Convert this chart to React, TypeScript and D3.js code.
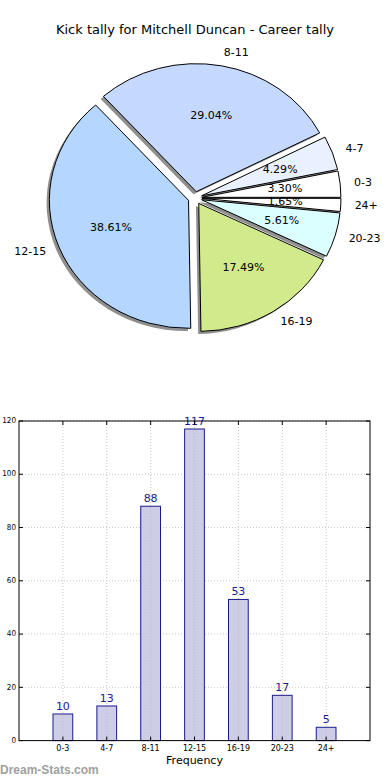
import React from 'react';
import * as d3 from 'd3';

const categories = ['0-3', '4-7', '8-11', '12-15', '16-19', '20-23', '24+'];
const kicks = [10, 13, 88, 117, 53, 17, 5];
const sliceColors = ['#ffffff', '#e9f0ff', '#c5d9ff', '#b4d6ff', '#d1eb8c', '#dbffff', '#ffffff'];
const yTicks = [0, 20, 40, 60, 80, 100, 120];

const W = 390;
const H = 780;
const FONT = 'DejaVu Sans, sans-serif';

// pie geometry (matplotlib style, non-equal aspect => ellipse)
const cx = 195;
const cy = 198;
const rx = 139;
const ry = 128;
const explode = 0.05;

// bar axes box
const ax = { left: 19, right: 370, top: 421, bottom: 740.6 };

const App: React.FC = () => {
  const total = d3.sum(kicks);
  const pie = d3.pie<number>()
    .sort(null)
    .startAngle(Math.PI / 2)
    .endAngle(Math.PI / 2 - 2 * Math.PI);
  const arcs = pie(kicks);
  const arc = d3.arc<d3.PieArcDatum<number>>().innerRadius(0).outerRadius(1);

  const x = d3.scaleLinear().domain([-1, 7]).range([ax.left, ax.right]);
  const y = d3.scaleLinear().domain([0, 120]).range([ax.bottom, ax.top]);
  const barW = x(0.45) - x(0);

  const slices = arcs.map((a, i) => {
    const mid = (a.startAngle + a.endAngle) / 2;
    const ux = Math.sin(mid);
    const uy = -Math.cos(mid);
    const ox = cx + explode * rx * ux;
    const oy = cy + explode * ry * uy;
    return { a, i, ux, uy, ox, oy };
  });

  return (
    <svg width={W} height={H} style={{ position: 'absolute', left: 0, top: 0, background: '#fff' }}
      fontFamily={FONT}>
      <text x={195} y={30} textAnchor="middle" dominantBaseline="middle" fontSize={13} fill="#000">
        Kick tally for Mitchell Duncan - Career tally
      </text>

      {/* shadows */}
      {slices.map(s => (
        <path key={'sh' + s.i} d={arc(s.a) || ''}
          transform={`translate(${s.ox - 0.02 * rx},${s.oy + 0.02 * ry}) scale(${rx},${ry})`}
          fill="#8f8f8f" stroke="none" />
      ))}
      {/* wedges */}
      {slices.map(s => (
        <path key={'w' + s.i} d={arc(s.a) || ''}
          transform={`translate(${s.ox},${s.oy}) scale(${rx},${ry})`}
          fill={sliceColors[s.i]} stroke="#000" strokeWidth={1}
          vectorEffect="non-scaling-stroke" strokeLinejoin="round" />
      ))}
      {/* labels */}
      {slices.map(s => {
        const lx = s.ox + 1.1 * rx * s.ux;
        const ly = s.oy + 1.1 * ry * s.uy;
        return (
          <text key={'l' + s.i} x={lx} y={ly} dominantBaseline="middle" fontSize={11}
            textAnchor={s.ux > 0 ? 'start' : 'end'} fill="#000">
            {categories[s.i]}
          </text>
        );
      })}
      {slices.map(s => (
        <text key={'p' + s.i} x={s.ox + 0.6 * rx * s.ux} y={s.oy + 0.6 * ry * s.uy}
          dominantBaseline="middle" textAnchor="middle" fontSize={11} fill="#000">
          {(100 * kicks[s.i] / total).toFixed(2)}%
        </text>
      ))}

      {/* bar chart grid */}
      <g stroke="#c8c8c8" strokeWidth={1} strokeDasharray="1,2">
        {categories.map((c, i) => (
          <line key={'gx' + c} x1={x(i)} x2={x(i)} y1={ax.top} y2={ax.bottom} />
        ))}
        {yTicks.map(t => (
          <line key={'gy' + t} x1={ax.left} x2={ax.right} y1={y(t)} y2={y(t)} />
        ))}
      </g>

      {/* bars */}
      {kicks.map((v, i) => (
        <g key={'b' + i}>
          <rect x={x(i) - barW / 2} y={y(v)} width={barW} height={y(0) - y(v)}
            fill="#cdcde6" stroke="#1a1a8c" strokeWidth={1} />
          <text x={x(i)} y={y(v) - 4} textAnchor="middle" fontSize={11} fill="#1a1a8c">{v}</text>
        </g>
      ))}
      {/* grid drawn over bars, as matplotlib does */}
      <g stroke="#b4b4c8" strokeWidth={1} strokeDasharray="1,2" opacity={0.7}>
        {kicks.map((v, i) => (
          <line key={'go' + i} x1={x(i)} x2={x(i)} y1={y(v) + 1} y2={ax.bottom} />
        ))}
      </g>

      {/* ticks */}
      <g stroke="#000" strokeWidth={1}>
        {categories.map((c, i) => (
          <g key={'tx' + c}>
            <line x1={x(i)} x2={x(i)} y1={ax.bottom} y2={ax.bottom - 4} />
            <line x1={x(i)} x2={x(i)} y1={ax.top} y2={ax.top + 4} />
          </g>
        ))}
        {yTicks.map(t => (
          <g key={'ty' + t}>
            <line x1={ax.left} x2={ax.left + 4} y1={y(t)} y2={y(t)} />
            <line x1={ax.right} x2={ax.right - 4} y1={y(t)} y2={y(t)} />
          </g>
        ))}
      </g>
      <rect x={ax.left} y={ax.top} width={ax.right - ax.left} height={ax.bottom - ax.top}
        fill="none" stroke="#000" strokeWidth={1} />

      {yTicks.map(t => (
        <text key={'yl' + t} x={ax.left - 3} y={y(t)} textAnchor="end" dominantBaseline="middle"
          fontSize={8} fill="#000" transform={`translate(${(ax.left - 3) * 0.1},0) scale(0.9,1)`}>
          {t}
        </text>
      ))}
      {categories.map((c, i) => (
        <text key={'xl' + c} x={x(i)} y={ax.bottom + 8} textAnchor="middle" dominantBaseline="middle"
          fontSize={8} fill="#000">
          {c}
        </text>
      ))}
      <text x={x(3)} y={ax.bottom + 20} textAnchor="middle" dominantBaseline="middle" fontSize={11} fill="#000">
        Frequency
      </text>
      <text x={0} y={774} fontSize={12} fontWeight="bold" fill="#a0a0a0"
        fontFamily="Liberation Sans, Arial, sans-serif">Dream-Stats.com</text>
    </svg>
  );
};

export default App;
